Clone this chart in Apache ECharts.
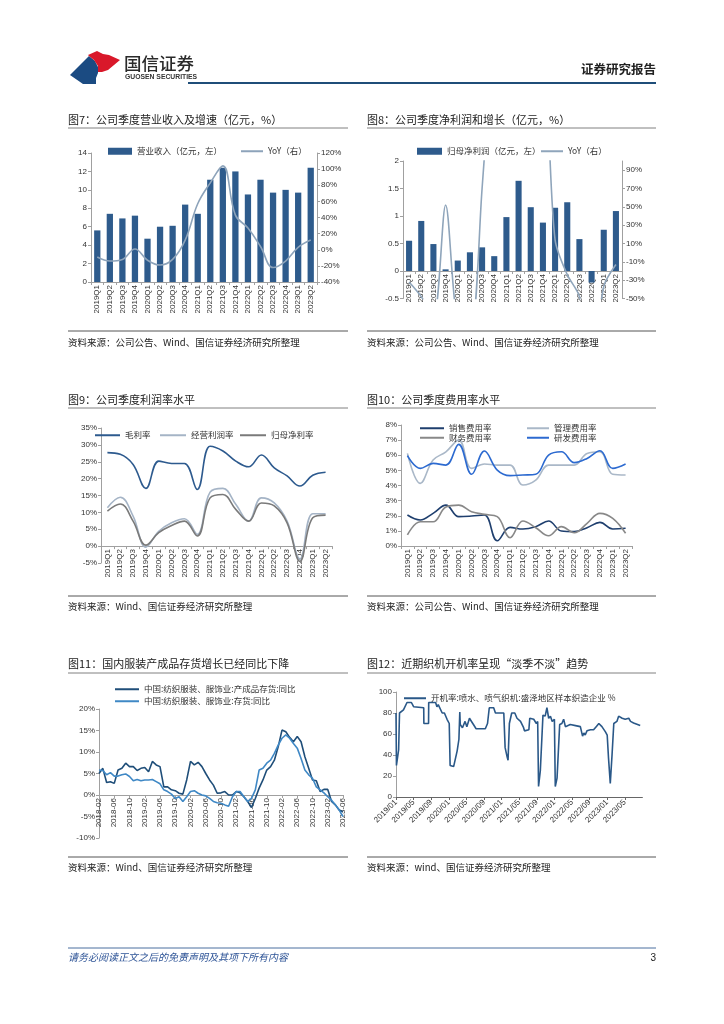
<!DOCTYPE html>
<html><head><meta charset="utf-8">
<script src="https://cdn.jsdelivr.net/npm/echarts@6/dist/echarts.min.js"></script>
<style>html,body{margin:0;padding:0;background:#fff}#c{width:724px;height:1024px}</style>
</head><body><div id="c"></div>
<script>
// ---------- data ----------
const quarters = ['2019Q1','2019Q2','2019Q3','2019Q4','2020Q1','2020Q2','2020Q3','2020Q4','2021Q1','2021Q2','2021Q3','2021Q4','2022Q1','2022Q2','2022Q3','2022Q4','2023Q1','2023Q2'];
// Fig 7
const revenue = [5.6,7.4,6.9,7.2,4.7,6.0,6.1,8.4,7.4,11.1,12.4,12.0,9.5,11.1,9.7,10.0,9.7,12.4];
const revenueYoY = [-9,-14,-12,1,-13,-19,-12,12,57,83,104,43,27,4,-22,-14,3,12];
// Fig 8
const netProfit = [0.55,0.91,0.49,0.03,0.19,0.34,0.43,0.27,0.98,1.64,1.16,0.88,1.15,1.25,0.58,-0.21,0.75,1.09];
const netProfitYoY = [-32,-48,-70,52,-80,-90,70,260,480,400,180,190,14,-24,-48,-125,-37,-13];
// Fig 9
const grossMargin = [27.7,27.2,24.2,17.1,25.2,24.5,24.5,16.8,29.6,28.2,25.2,23.5,27.0,23.2,20.8,17.8,21.0,21.9];
const opMargin = [11.4,14.5,8.9,-0.3,4.4,6.9,8.1,3.5,16.0,17.1,12.4,7.4,14.3,12.8,7.4,-3.8,9.6,9.6];
const netMargin = [10.4,12.5,7.4,0.3,4.0,6.1,7.4,3.0,14.3,15.3,10.9,7.4,12.8,11.9,6.9,-4.5,8.4,9.2];
// Fig 10
const salesRate = [2.05,1.72,2.16,2.7,1.94,1.98,2.05,0.35,1.23,1.12,1.28,1.65,0.99,0.95,1.21,1.56,1.12,1.17];
const adminRate = [6.12,4.14,5.68,6.23,7.0,5.13,5.42,5.35,5.35,4.03,4.36,5.35,5.35,5.35,6.12,6.23,4.74,4.69];
const finRate = [0.73,1.6,1.6,2.58,2.7,2.27,2.09,1.94,0.55,1.65,1.21,0.68,1.28,0.88,1.5,2.16,1.83,0.84];
const rdRate = [5.97,5.13,5.46,5.35,6.72,4.74,6.28,5.02,4.65,4.69,4.74,6.01,6.23,5.51,5.79,6.3,5.13,5.42];
// Fig 11 (monthly 2018-02 .. 2023-06)
const months = [];
for (let y = 2018; y <= 2023; y++) for (let m = 1; m <= 12; m++) {
  if ((y === 2018 && m < 2) || (y === 2023 && m > 6)) continue;
  months.push(y + '-' + String(m).padStart(2, '0'));
}
const finishedInvYoY = [5.0,6.2,2.9,3.1,2.7,5.8,6.2,7.4,6.6,6.6,5.7, 6.2,6.4,5.4,7.8,7.0,6.6,1.9,1.9,1.2,1.0,0.4,0.2, 3.5,7.8,7.0,7.6,6.6,5.0,3.5,2.3,0.4,0.5,0.8,0.0, 0.0,0.8,0.5,-0.4,-1.5,-2.9,-0.8,1.6,3.5,5.8,6.6,8.1, 11.2,15.1,14.7,13.4,12.4,13.6,12.4,8.9,6.2,3.5,3.3,0.8, 1.3,1.3,-1.5,-2.3,-3.5,-3.9];
const totalInvYoY = [5.8,5.7,4.7,5.2,4.4,4.4,4.7,4.9,4.3,3.3,3.6, 3.3,3.5,3.5,3.6,3.1,2.6,1.2,0.8,0.2,-0.8,-0.4,-1.5, -0.4,0.8,1.0,0.4,0.0,-0.2,-0.8,-1.5,-1.8,-1.9,-2.3,-2.6, -0.4,0.8,0.8,-0.4,-1.5,-0.8,1.2,5.8,6.2,7.4,8.1,9.7, 11.6,13.2,14.0,13.2,12.0,10.9,8.5,5.8,4.7,3.9,1.9,1.2, 0.5,-0.4,-1.2,-2.3,-3.5,-5.0];
// Fig 12
const loomDates = ['2019-01-01','2019-01-04','2019-01-19','2019-01-25','2019-02-22','2019-03-16','2019-04-16','2019-05-01','2019-05-07','2019-07-10','2019-07-11','2019-08-13','2019-08-14','2019-10-01','2019-10-10','2019-10-19','2019-11-16','2019-12-01','2019-12-19','2020-01-04','2020-01-10','2020-02-04','2020-02-28','2020-03-10','2020-03-16','2020-03-19','2020-04-04','2020-04-22','2020-05-04','2020-05-22','2020-06-10','2020-06-19','2020-07-07','2020-09-10','2020-09-25','2020-10-07','2020-11-07','2020-11-19','2021-01-16','2021-01-25','2021-02-09','2021-02-15','2021-02-24','2021-03-10','2021-04-01','2021-04-16','2021-05-10','2021-06-01','2021-06-07','2021-07-07','2021-07-13','2021-08-10','2021-08-28','2021-09-07','2021-09-13','2021-09-25','2021-10-13','2021-10-28','2021-11-10','2021-11-22','2021-12-04','2021-12-16','2022-01-01','2022-01-07','2022-01-19','2022-02-07','2022-02-22','2022-03-04','2022-03-16','2022-04-19','2022-05-25','2022-06-28','2022-07-10','2022-07-13','2022-07-22','2022-08-01','2022-08-13','2022-09-07','2022-09-28','2022-10-16','2022-11-04','2022-11-25','2022-12-19','2023-01-01','2023-01-10','2023-01-22','2023-02-04','2023-02-16','2023-03-07','2023-03-19','2023-04-13','2023-05-04','2023-05-28','2023-06-10','2023-07-01','2023-08-16'];
const loomRate = [80,30,45,80,83,90,90,86,85,85,70,70,90,90,86,88,80,80,74,70,30,29,44,55,81,69,66,72,67,75,71,69,65,65,70,85,85,80,80,47,38,35,70,80,80,75,72,66,63,64,75,74,70,72,10,25,78,77,85,75,77,72,74,10,18,69,70,74,67,69,68,67,66,58,61,59,63,64,64,67,70,67,62,59,37,13,40,70,72,77,75,74,75,72,70.5,68];

// ---------- helpers ----------
const FF = "'Liberation Sans','Noto Sans CJK SC',sans-serif";
const CJK = "'Noto Sans CJK SC',sans-serif";
const AX = '#a0a0a0';
function mo(s){ const p = s.split('-').map(Number); return (p[0]-2019)*12 + (p[1]-1) + (p[2]-1)/30; }
// zeroShift: distance (px) of the zero line above the grid bottom
function catX(grid, data, zeroShift, extra){
  return Object.assign({
    type:'category', gridIndex:grid, data:data, boundaryGap:true, position:'bottom', offset:-zeroShift,
    axisLine:{show:true, onZero:false, lineStyle:{color:AX}},
    axisTick:{show:true, length:3, lineStyle:{color:AX}},
    axisLabel:{rotate:90, interval:0, fontSize:8, color:'#333', margin:3, fontFamily:FF},
    splitLine:{show:false}
  }, extra||{});
}
function valY(grid, min, max, interval, fmt, pos, extra){
  return Object.assign({
    type:'value', gridIndex:grid, min:min, max:max, interval:interval, position:pos||'left',
    axisLine:{show:true, lineStyle:{color:AX}},
    axisTick:{show:true, length:3, lineStyle:{color:AX}},
    axisLabel:{fontSize:8, color:'#333', margin:4, formatter:fmt||'{value}', fontFamily:FF},
    splitLine:{show:false}
  }, extra||{});
}
function lg(name, left, cy, w, h, opts){
  return Object.assign({
    data:[name], left:left, top:cy-6, itemWidth:w, itemHeight:h||2, itemGap:0, padding:0, icon:'rect',
    selectedMode:false, textStyle:{fontSize:8.5, color:'#333', fontFamily:CJK}
  }, opts||{});
}
function ln(name, x, y, data, color, extra){
  return Object.assign({
    name:name, type:'line', xAxisIndex:x, yAxisIndex:y, data:data, symbol:'none', showSymbol:false,
    lineStyle:{color:color, width:1.6}, itemStyle:{color:color}
  }, extra||{});
}
function txt(t, x, y, size, opts){
  return {type:'text', x:x, y:y, silent:true, style:Object.assign({text:t, fill:'#222', fontSize:size, fontFamily:CJK, verticalAlign:'middle', align:'left'}, opts||{})};
}
function hl(x1, x2, y, color, w){
  return {type:'line', silent:true, shape:{x1:x1, y1:y, x2:x2, y2:y}, style:{stroke:color||'#808080', lineWidth:w||1}};
}

const graphics = [
  // header logo
  {type:'polygon', silent:true, shape:{points:[[70,75],[89,56],[95,61],[98,67],[98,73],[96,78],[96,84],[83,84]]}, style:{fill:'#1b4b82'}},
  {type:'polygon', silent:true, shape:{points:[[88,55],[97,51],[103,54],[109,55],[120,60],[108,70],[102,72],[98,72],[98,66],[94,60],[89,56]]}, style:{fill:'#d9182a'}},
  txt('国信证券', 124, 63, 17.5, {fill:'#2a2a2a', fontWeight:'500'}),
  txt('GUOSEN SECURITIES', 125, 77, 6.8, {fill:'#333', fontWeight:'bold', fontFamily:FF}),
  txt('证券研究报告', 656, 69, 12.5, {align:'right', fill:'#222', fontWeight:'bold'}),
  hl(188, 656, 83, '#1f4e79', 2),
  // titles
  txt('图7：公司季度营业收入及增速（亿元，%）', 68, 120, 11),
  txt('图8：公司季度净利润和增长（亿元，%）', 367, 120, 11),
  txt('图9：公司季度利润率水平', 68, 400, 11),
  txt('图10：公司季度费用率水平', 367, 400, 11),
  txt('图11：国内服装产成品存货增长已经同比下降', 68, 664, 11),
  txt('图12：近期织机开机率呈现“淡季不淡”趋势', 367, 664, 11),
  hl(68, 348, 128), hl(367, 656, 128), hl(68, 348, 408), hl(367, 656, 408), hl(68, 348, 673), hl(367, 656, 673),
  // sources
  hl(68, 348, 331, '#555'), hl(367, 656, 331, '#555'),
  hl(68, 348, 596, '#555'), hl(367, 656, 596, '#555'),
  hl(68, 348, 857, '#555'), hl(367, 656, 857, '#555'),
  txt('资料来源：公司公告、Wind、国信证券经济研究所整理', 68, 342, 9.5),
  txt('资料来源：公司公告、Wind、国信证券经济研究所整理', 367, 342, 9.5),
  txt('资料来源：Wind、国信证券经济研究所整理', 68, 606, 9.5),
  txt('资料来源：公司公告、Wind、国信证券经济研究所整理', 367, 606, 9.5),
  txt('资料来源：Wind、国信证券经济研究所整理', 68, 867, 9.5),
  txt('资料来源：wind、国信证券经济研究所整理', 367, 867, 9.5),
  // footer
  hl(68, 656, 948, '#4a6f9f', 1),
  txt('请务必阅读正文之后的免责声明及其项下所有内容', 68, 957, 10, {fill:'#2f5597', fontStyle:'italic'}),
  txt('3', 656, 958, 10, {align:'right', fill:'#222', fontFamily:FF})
];

const option = {
  animation:false,
  backgroundColor:'#fff',
  textStyle:{fontFamily:FF},
  grid:[
    {left:91, top:153, width:226, height:129, outerBoundsMode:'none'},
    {left:403, top:161, width:219, height:137.5, outerBoundsMode:'none'},
    {left:101, top:428, width:231, height:135, outerBoundsMode:'none'},
    {left:401, top:425, width:231, height:121, outerBoundsMode:'none'},
    {left:99, top:709, width:244, height:129, outerBoundsMode:'none'},
    {left:396, top:692, width:246.4, height:105, outerBoundsMode:'none'}
  ],
  xAxis:[
    catX(0, quarters, 0),
    catX(1, quarters, 27.5),
    catX(2, quarters, 16.875),
    catX(3, quarters, 0),
    catX(4, months, 43, {boundaryGap:false, axisLabel:{rotate:90, interval:3, fontSize:8, color:'#333', margin:3, fontFamily:FF}, axisTick:{show:true, interval:3, length:3, lineStyle:{color:AX}}}),
    {type:'value', gridIndex:5, min:0, max:56, interval:4,
      axisLine:{show:true, lineStyle:{color:'#666'}}, axisTick:{show:true, length:3, lineStyle:{color:'#666'}},
      splitLine:{show:false},
      axisLabel:{rotate:45, fontSize:8, color:'#333', margin:4, fontFamily:FF, showMaxLabel:false,
        formatter:function(v){ if (v >= 56) return ''; const y = 2019 + Math.floor(v/12); const m = v % 12 + 1; return y + '/' + String(m).padStart(2,'0'); }}}
  ],
  yAxis:[
    valY(0, 0, 14, 2),
    valY(0, -40, 120, 20, '{value}%', 'right'),
    valY(1, -0.5, 2, 0.5),
    valY(1, -50, 100, 20, '{value}%', 'right', {axisLabel:{fontSize:8, color:'#333', margin:4, formatter:'{value}%', fontFamily:FF, showMaxLabel:false}}),
    valY(2, -5, 35, 5, '{value}%'),
    valY(3, 0, 8, 1, '{value}%'),
    valY(4, -10, 20, 5, '{value}%'),
    valY(5, 0, 100, 20)
  ],
  legend:[
    lg('营业收入（亿元，左）', 108, 153, 24, 7),
    lg('YoY7', 241, 153, 22, 2, {formatter:function(){return 'YoY（右）';}}),
    lg('归母净利润（亿元，左）', 417, 153, 25, 7),
    lg('YoY8', 541, 153, 22, 2, {formatter:function(){return 'YoY（右）';}}),
    lg('毛利率', 95, 437, 25),
    lg('经营利润率', 160, 437, 26),
    lg('归母净利率', 240, 437, 26),
    lg('销售费用率', 420, 430, 24),
    lg('管理费用率', 527, 430, 22),
    lg('财务费用率', 420, 439.5, 24),
    lg('研发费用率', 527, 439.5, 22),
    lg('中国:纺织服装、服饰业:产成品存货:同比', 115, 691, 24),
    lg('中国:纺织服装、服饰业:存货:同比', 115, 703, 24),
    lg('开机率:喷水、喷气织机:盛泽地区样本织造企业 %', 404, 700, 22)
  ],
  graphic:graphics,
  series:[
    {name:'营业收入（亿元，左）', type:'bar', xAxisIndex:0, yAxisIndex:0, data:revenue, barWidth:'50%', itemStyle:{color:'#2e5b8c'}},
    ln('YoY7', 0, 1, revenueYoY, '#8da3ba', {smooth:0.4}),
    {name:'归母净利润（亿元，左）', type:'bar', xAxisIndex:1, yAxisIndex:2, data:netProfit, barWidth:'50%', itemStyle:{color:'#2e5b8c'}},
    ln('YoY8', 1, 3, netProfitYoY, '#8fa5bb', {smooth:0.3, clip:true}),
    ln('毛利率', 2, 4, grossMargin, '#2d5a8e', {smooth:0.4}),
    ln('经营利润率', 2, 4, opMargin, '#a5b4c6', {smooth:0.4}),
    ln('归母净利率', 2, 4, netMargin, '#7a7a7a', {smooth:0.4}),
    ln('销售费用率', 3, 5, salesRate, '#1f3f6e', {smooth:0.4}),
    ln('管理费用率', 3, 5, adminRate, '#aab8c8', {smooth:0.4}),
    ln('财务费用率', 3, 5, finRate, '#888888', {smooth:0.4}),
    ln('研发费用率', 3, 5, rdRate, '#2c6ad0', {smooth:0.4}),
    ln('中国:纺织服装、服饰业:产成品存货:同比', 4, 6, finishedInvYoY, '#1f4e79'),
    ln('中国:纺织服装、服饰业:存货:同比', 4, 6, totalInvYoY, '#3f88c5'),
    ln('开机率:喷水、喷气织机:盛泽地区样本织造企业 %', 5, 7, loomDates.map(function(d, i){ return [mo(d), loomRate[i]]; }), '#2a5888')
  ]
};
const chart = echarts.init(document.getElementById('c'), null, {renderer:'canvas', width:724, height:1024});
chart.setOption(option);
</script>
</body></html>
